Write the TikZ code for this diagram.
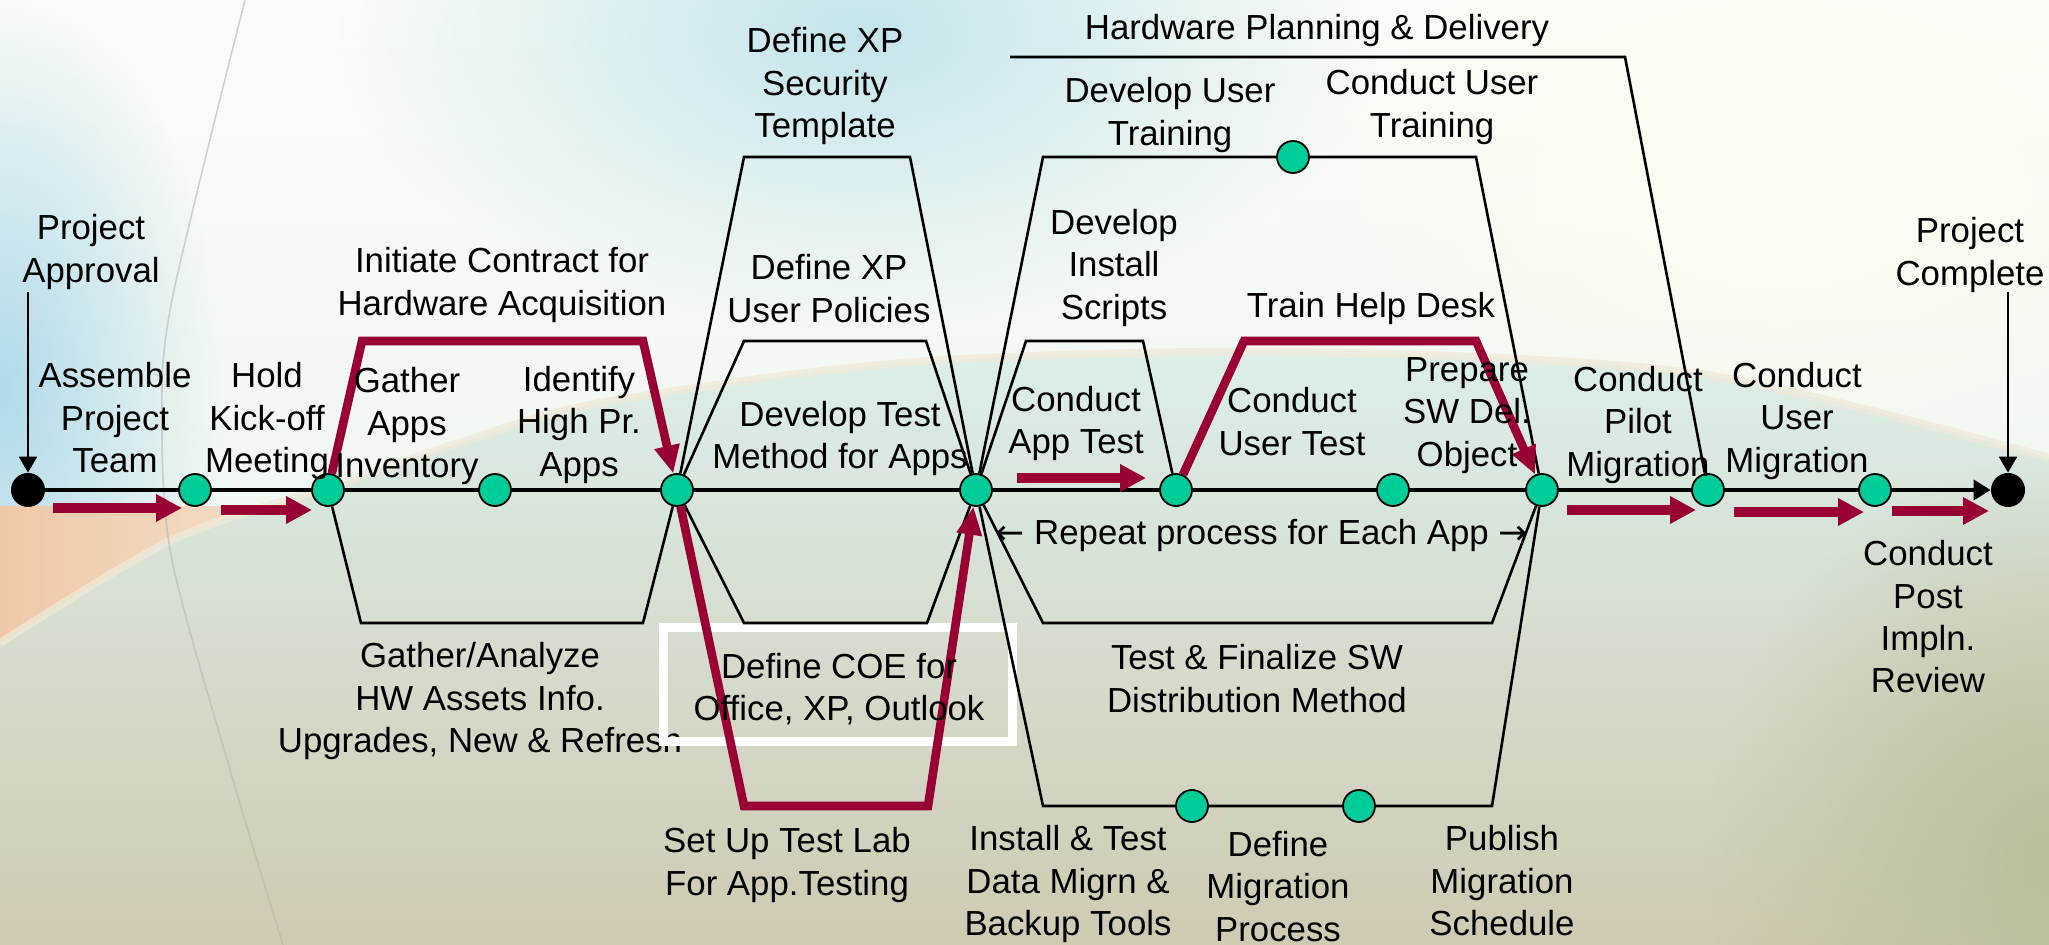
\documentclass[tikz,border=0pt]{standalone}
\usepackage{fontspec}
\setmainfont{Liberation Sans}
\newfontfamily\arrowfont{DejaVu Sans}
\usetikzlibrary{arrows.meta,fadings}

\definecolor{stepgreen}{HTML}{00CC99}
\definecolor{flowred}{HTML}{990033}
\definecolor{skytop}{HTML}{FBFCF8}
\definecolor{skylow}{HTML}{E8F2EC}
\definecolor{groundtop}{HTML}{DCEFE9}
\definecolor{groundmid}{HTML}{D6DDCF}
\definecolor{groundbot}{HTML}{CFCAB2}
\definecolor{skyblue}{HTML}{B0DAEA}
\definecolor{skyteal}{HTML}{C4E5EC}
\definecolor{cream}{HTML}{FDFCF0}
\definecolor{olive}{HTML}{BBBE9C}
\definecolor{peach}{HTML}{F0C8A6}
\definecolor{peachfade}{HTML}{F2EDDF}
\definecolor{band}{HTML}{EFEAD8}
\definecolor{arcgrey}{HTML}{B4B8B2}

\tikzfading[name=softblob, inner color=transparent!0, outer color=transparent!100]

\pgfdeclarelayer{backdrop}
\pgfdeclarelayer{undertext}
\pgfdeclarelayer{frame}
\pgfdeclarelayer{tracks}
\pgfsetlayers{backdrop,undertext,frame,tracks,main}

\tikzset{
  milestone/.style={circle, draw=black, line width=0.9pt, fill=stepgreen, minimum size=16pt, inner sep=0pt},
  endpoint/.style={circle, fill=black, minimum size=17pt, inner sep=0pt},
  lbl/.style={anchor=north, inner sep=0pt, outer sep=0pt, align=center, font=\fontsize{17.4pt}{21.2pt}\selectfont},
  track/.style={draw=black, line width=1.3pt},
  spine/.style={draw=black, line width=1.8pt, -{Triangle[length=8.5pt,width=10pt]}},
  drop/.style={draw=black, line width=1.1pt, -{Triangle[length=8pt,width=9pt]}},
  critical/.style={draw=flowred, line width=4.3pt},
  criticaltip/.style={-{Triangle[length=14pt,width=12pt]}},
  blockarrow/.style={draw=flowred, line width=4.6pt, -{Triangle[length=13pt,width=13pt]}},
  blob/.style={path fading=softblob},
}

\begin{document}
\begin{tikzpicture}[x=0.5pt,y=-0.5pt]
\useasboundingbox (0,0) rectangle (2049,945);

% ---------- backdrop ----------
\begin{pgfonlayer}{backdrop}
  \begin{scope}
    \clip (0,0) rectangle (2049,945);
    % sky above the horizon
    \shade[top color=skytop, bottom color=skylow] (0,0) rectangle (2049,945);
    \fill[skyteal, blob] (860,30) ellipse [x radius=260pt, y radius=150pt];
    \fill[cream, blob] (1780,190) ellipse [x radius=250pt, y radius=150pt];
    \begin{scope}
      \clip (0,0) rectangle (2049,507);
      \fill[skyblue, blob] (0,390) ellipse [x radius=110pt, y radius=200pt];
    \end{scope}
    \begin{scope}
      \clip (0,507) rectangle (500,700);
      \shade[left color=peach, right color=peachfade]
        plot[smooth] coordinates {(0,643) (172,540) (329,487) (459,443)}
        -- (459,400) -- (0,400) -- cycle;
    \end{scope}
    % ground below the horizon
    \shade[top color=groundtop, middle color=groundmid, bottom color=groundbot]
      plot[smooth] coordinates
      {(0,643) (172,540) (329,487) (459,443) (600,403) (915,362) (1300,352) (1700,374) (2049,458)}
      -- (2049,945) -- (0,945) -- cycle;
    \fill[olive, blob] (2049,860) ellipse [x radius=170pt, y radius=200pt];
    \draw[band, line width=4pt, opacity=0.75] plot[smooth] coordinates
      {(0,643) (172,540) (329,487) (459,443) (600,403) (915,362) (1300,352) (1700,374) (2049,458)};
    \draw[arcgrey, line width=0.8pt, opacity=0.6] plot[smooth] coordinates
      {(245,0) (172,300) (162,420) (172,560) (233,780) (283,945)};
  \end{scope}
\end{pgfonlayer}

% ---------- milestones on the main line ----------
\node[endpoint]  (n1)  at (28,490)   {};
\node[milestone] (n2)  at (195,490)  {};
\node[milestone] (n3)  at (328,490)  {};
\node[milestone] (n4)  at (495,490)  {};
\node[milestone] (n5)  at (677,490)  {};
\node[milestone] (n6)  at (976,490)  {};
\node[milestone] (n7)  at (1176,490) {};
\node[milestone] (n8)  at (1393,490) {};
\node[milestone] (n9)  at (1542,490) {};
\node[milestone] (n10) at (1708,490) {};
\node[milestone] (n11) at (1875,490) {};
\node[endpoint]  (n12) at (2008,490) {};
% milestones on the parallel tracks
\node[milestone] (u1) at (1293,157) {};
\node[milestone] (b1) at (1192,806) {};
\node[milestone] (b2) at (1359,806) {};

% free ends
\coordinate (apprtop)  at (28,292);
\coordinate (compltop) at (2008,292);
\coordinate (hwstart)  at (1010,57);
\coordinate (ra1s) at (53,508);    \coordinate (ra1e) at (182,508);
\coordinate (ra2s) at (221,510);   \coordinate (ra2e) at (312,510);
\coordinate (ra3s) at (1017,478);  \coordinate (ra3e) at (1146,478);
\coordinate (ra4s) at (1567,510);  \coordinate (ra4e) at (1696,510);
\coordinate (ra5s) at (1734,512);  \coordinate (ra5e) at (1864,512);
\coordinate (ra6s) at (1892,511);  \coordinate (ra6e) at (1989,511);

% ---------- label hidden partly by the COE frame ----------
\begin{pgfonlayer}{undertext}
  \node[lbl] (lAssets) at (480,642.5) {Gather/Analyze\\HW Assets Info.\\Upgrades, New \& Refresh};
\end{pgfonlayer}

% ---------- COE frame ----------
\begin{pgfonlayer}{frame}
  \draw[white, line width=4.5pt] (663.5,627.5) rectangle (1012,741);
\end{pgfonlayer}

% ---------- tracks ----------
\begin{pgfonlayer}{tracks}
  \draw[spine] (n1) -- (n12);
  \draw[drop] (apprtop) -- (n1);
  \draw[drop] (compltop) -- (n12);

  \draw[track] (n3) -- (361,623) -- (643,623) -- (n5);
  \draw[track] (n5) -- (744,157) -- (910,157) -- (n6);
  \draw[track] (n5) -- (744,341) -- (926,341) -- (n6);
  \draw[track] (n5) -- (744,623) -- (927,623) -- (n6);
  \draw[track] (n6) -- (1026,341) -- (1143,341) -- (n7);
  \draw[track] (n6) -- (1043,157) -- (u1) -- (1476,157) -- (n9);
  \draw[track] (n6) -- (1043,623) -- (1492,623) -- (n9);
  \draw[track] (n6) -- (1043,806) -- (b1) -- (b2) -- (1492,806) -- (n9);
  \draw[track] (hwstart) -- (1625,57) -- (n10);

  % critical path
  \draw[critical, criticaltip] (n3) -- (362,341) -- (643,341) -- (n5);
  \draw[critical, criticaltip] (n5) -- (744,806) -- (928,806) -- (n6);
  \draw[critical, criticaltip] (n7) -- (1244,341) -- (1476,341) -- (n9);

  \draw[blockarrow] (ra1s) -- (ra1e);
  \draw[blockarrow] (ra2s) -- (ra2e);
  \draw[blockarrow] (ra3s) -- (ra3e);
  \draw[blockarrow] (ra4s) -- (ra4e);
  \draw[blockarrow] (ra5s) -- (ra5e);
  \draw[blockarrow] (ra6s) -- (ra6e);
\end{pgfonlayer}

% ---------- labels ----------
\node[lbl] (lApproval)   at (91,214.5)   {Project\\Approval};
\node[lbl] (lAssemble)   at (115,362.5)  {Assemble\\Project\\Team};
\node[lbl] (lKickoff)    at (267,362.5)  {Hold\\Kick-off\\Meeting};
\node[lbl] (lContract)   at (502,247.5)  {Initiate Contract for\\Hardware Acquisition};
\node[lbl] (lInventory)  at (407,367.5)  {Gather\\Apps\\Inventory};
\node[lbl] (lPriority)   at (579,366)    {Identify\\High Pr.\\Apps};
\node[lbl] (lSecurity)   at (825,27.5)   {Define XP\\Security\\Template};
\node[lbl] (lPolicies)   at (829,254.5)  {Define XP\\User Policies};
\node[lbl] (lTestMethod) at (840,401)    {Develop Test\\Method for Apps};
\node[lbl] (lCOE)        at (839,653)    {Define COE for\\Office, XP, Outlook};
\node[lbl] (lTestLab)    at (787,827.5)  {Set Up Test Lab\\For App.Testing};
\node[lbl] (lHardware)   at (1317,14.5)  {Hardware Planning \& Delivery};
\node[lbl] (lDevTrain)   at (1170,77.5)  {Develop User\\Training};
\node[lbl] (lConTrain)   at (1432,69.5)  {Conduct User\\Training};
\node[lbl] (lScripts)    at (1114,209)   {Develop\\Install\\Scripts};
\node[lbl] (lHelpDesk)   at (1371,292.5) {Train Help Desk};
\node[lbl] (lAppTest)    at (1076,386)   {Conduct\\App Test};
\node[lbl] (lUserTest)   at (1292,387.5) {Conduct\\User Test};
\node[lbl] (lSWDel)      at (1467,357.5) {Prepare\\SW Del.\\Object};
\node[lbl] (lPilot)      at (1638,366)   {Conduct\\Pilot\\Migration};
\node[lbl] (lUserMig)    at (1797,362)   {Conduct\\User\\Migration};
\node[lbl] (lComplete)   at (1970,217.5) {Project\\Complete};
\node[lbl] (lRepeat)     at (1261.5,519.5) {{\arrowfont ←} Repeat process for Each App {\arrowfont →}};
\node[lbl] (lFinalize)   at (1257,644.5) {Test \& Finalize SW\\Distribution Method};
\node[lbl] (lTools)      at (1068,825.5) {Install \& Test\\Data Migrn \&\\Backup Tools};
\node[lbl] (lMigProc)    at (1278,831)   {Define\\Migration\\Process};
\node[lbl] (lPublish)    at (1502,825.5) {Publish\\Migration\\Schedule};
\node[lbl] (lReview)     at (1928,540.5) {Conduct\\Post\\Impln.\\Review};
\end{tikzpicture}
\end{document}
